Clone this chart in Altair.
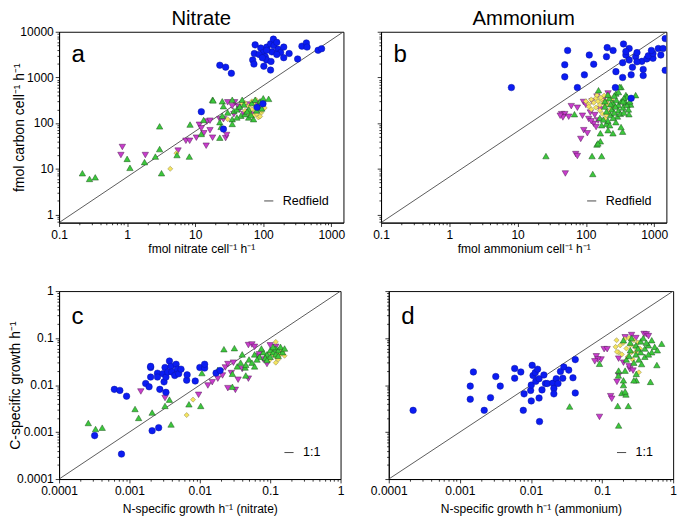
import altair as alt
import pandas as pd

# ---------------- data ----------------
# Panel a: nitrate uptake vs carbon fixation (fmol cell-1 h-1)
a_blue = [(23,1850),(28,1680),(34,1230),(76,5170),(74,3340),(70,2420),(73,1960),(102,1760),
          (128,1450),(92,4400),(100,3510),(107,2850),(113,4620),(128,5430),(141,6900),(144,5000),
          (134,3630),(112,2420),(158,5870),(165,4130),(180,3510),(200,4620),(200,2710),(240,3340),
          (320,2540),(370,4840),(430,5700),(440,4620),(640,3930),(720,4260),(112,3930),(87,3190),
          (158,3190),(130,2240),(97,2710),(12.3,178),(26,74),(81,222),(99,265)]
a_green = [(0.22,8),(0.28,6),(0.34,6.5),(1.0,16.5),(1.1,10.5),(1.8,14),(2.6,18.5),(3.0,27),(3.0,85),
           (3.2,8),(5.4,20),(8.2,18.5),(8.4,93),(12.3,58),(13.3,117),(23,48),(18,325),(18.3,315),
           (25,145),(23,105),(24,83),(25,300),(26,235),(35,122),(35,325),(37,185),(41,200),(49,325),
           (47,145),(54,157),(61,200),(68,275),(76,325),(90,300),(100,350),(120,340),(72,122),(35,96),
           (85,235),(41,133),(52,255),(61,133),(30,170),(45,230),(58,180),(80,190),(95,210),(66,150)]
a_magenta = [(0.85,30),(0.81,20),(1.85,20),(5.6,25),(7.3,41),(8.3,41),(10.4,48),(11.5,92),(12.3,77),
             (13.4,60),(14.5,32),(14.8,108),(16.5,113),(16.5,70),(18,48),(28,47),(29,55),(23,122),
             (30,285),(38,285),(35,235),(43,230),(37,157),(52,157),(61,175),(68,165),(60,255),(26,122),
             (80,275),(45,200)]
a_yellow = [(4.3,10),(5.3,22),(30,122),(54,275),(61,235),(68,200),(76,185),(80,157),(85,133),(94,170),
            (72,145),(64,157),(90,235),(54,185),(100,235),(105,215),(78,325),(68,300),(49,275),(90,140),
            (84,210),(74,250),(95,190)]

# Panel b: ammonium uptake vs carbon fixation
b_blue = [(8.1,600),(54,3900),(49,1900),(49,1030),(75,600),(95,1140),(130,1950),(112,3100),(205,4500),
          (200,2850),(250,3900),(355,5400),(275,1340),(270,600),(345,1000),(345,2100),(385,3100),
          (430,4300),(385,3700),(430,2400),(480,1670),(460,1140),(535,2850),(560,3500),(660,2250),
          (560,2200),(690,1500),(780,2550),(960,2630),(820,2980),(960,3350),(1150,4300),(1350,4300),
          (1250,3100),(910,3900),(1450,7100),(1450,1430),(690,1100),(460,350)]
b_green = [(26,19),(126,7.7),(123,19),(170,19),(145,34),(163,40),(345,65),(211,70),(249,60),(68,157),
           (153,525),(327,617),(327,82),(200,97),(275,105),(427,157),(385,412),(453,255),(163,60),
           (170,90),(210,113),(223,90),(535,410),(400,380),(310,620),(275,445),(150,36),(190,300),
           (220,350),(250,280),(280,320),(300,250),(330,300),(360,350),(380,280),(240,200),(270,230),
           (300,190),(350,220),(400,250),(420,200),(200,180),(230,150),(260,170),(290,140),(320,160),
           (360,170),(210,420),(260,400),(300,480),(350,300),(440,300),(230,260),(190,230),(160,130),
           (180,120),(250,130)]
b_magenta = [(61,235),(75,217),(92,290),(44,157),(49,157),(56,138),(46,133),(42,145),(89,145),(110,123),
             (123,300),(145,380),(180,324),(130,97),(141,82),(93,70),(105,60),(84,45),(151,114),(116,170),
             (71,21),(75,19),(50,7.9),(211,447),(100,250),(160,200),(135,150),(120,110)]
b_yellow = [(100,300),(110,260),(120,330),(130,280),(140,350),(150,300),(160,250),(170,330),(180,280),
            (190,230),(200,300),(210,260),(220,380),(230,200),(120,200),(140,220),(160,190),(175,160),
            (200,150),(145,410),(185,400),(240,320),(110,230),(165,360),(210,170),(250,240),(190,125)]

# Panel c: N-specific (nitrate) vs C-specific growth (h-1)
c_blue = [(0.00077,0.00034),(0.00032,0.00084),(0.00061,0.0081),(0.00073,0.0077),(0.00091,0.0058),
          (0.0017,0.0108),(0.0019,0.0092),(0.002,0.0148),(0.002,0.0237),(0.002,0.025),(0.0025,0.0179),
          (0.0025,0.0148),(0.0027,0.0081),(0.0031,0.0117),(0.003,0.0175),(0.0032,0.0237),(0.0033,0.0148),
          (0.0035,0.019),(0.0037,0.0325),(0.0039,0.025),(0.004,0.019),(0.0044,0.016),(0.0046,0.0277),
          (0.0048,0.0218),(0.005,0.0174),(0.0054,0.0218),(0.0033,0.0070),(0.0021,0.00107),
          (0.0026,0.00124),(0.0065,0.0127),(0.0066,0.0165),(0.0086,0.0122),(0.01,0.0237),
          (0.0117,0.023),(0.0117,0.0277),(0.017,0.018),(0.0194,0.0204)]
c_green = [(0.00026,0.00156),(0.00033,0.00116),(0.00041,0.00124),(0.0012,0.0031),(0.00135,0.002),
           (0.0021,0.0026),(0.0032,0.0036),(0.0037,0.0049),(0.0039,0.00145),(0.007,0.0039),
           (0.0103,0.0036),(0.0107,0.018),(0.022,0.058),(0.031,0.061),(0.029,0.0174),(0.029,0.0092),
           (0.044,0.0237),(0.04,0.045),(0.018,0.021),(0.034,0.025),(0.05,0.035),(0.06,0.045),(0.07,0.04),
           (0.08,0.05),(0.09,0.045),(0.1,0.055),(0.11,0.05),(0.12,0.06),(0.13,0.055),(0.14,0.065),
           (0.15,0.05),(0.1,0.04),(0.12,0.045),(0.085,0.038),(0.065,0.035),(0.075,0.06),(0.13,0.042),
           (0.16,0.06),(0.055,0.03),(0.045,0.027),(0.11,0.065),(0.09,0.034),(0.038,0.03),(0.06,0.025),
           (0.045,0.016)]
c_magenta = [(0.00145,0.0073),(0.0032,0.0053),(0.0096,0.0062),(0.018,0.0137),(0.021,0.016),(0.023,0.0237),
             (0.025,0.028),(0.03,0.03),(0.049,0.071),(0.055,0.073),(0.06,0.065),(0.049,0.0137),
             (0.025,0.0086),(0.032,0.0079),(0.035,0.013),(0.04,0.022),(0.0665,0.041),(0.09,0.028),
             (0.08,0.035),(0.1,0.07),(0.12,0.065),(0.07,0.045),(0.015,0.0115),(0.028,0.018),(0.013,0.0098)]
c_yellow = [(0.0065,0.0023),(0.008,0.0049),(0.1,0.05),(0.11,0.045),(0.12,0.04),(0.13,0.05),(0.12,0.083),
            (0.14,0.045),(0.15,0.05),(0.16,0.042),(0.13,0.035),(0.11,0.06),(0.1,0.035),(0.14,0.06),
            (0.12,0.03),(0.09,0.042)]

# Panel d: N-specific (ammonium) vs C-specific growth (h-1)
d_blue = [(0.00022,0.0029),(0.0014,0.0095),(0.0014,0.005),(0.00155,0.019),(0.0022,0.0029),(0.0027,0.0054),
          (0.0032,0.0152),(0.0037,0.0095),(0.0059,0.0225),(0.0059,0.014),(0.0072,0.019),(0.008,0.0065),
          (0.0078,0.0029),(0.0099,0.0077),(0.0101,0.01),(0.0101,0.0046),(0.0104,0.0263),(0.0107,0.016),
          (0.0115,0.0184),(0.0117,0.012),(0.0124,0.0218),(0.013,0.0137),(0.013,0.0053),(0.0132,0.00167),
          (0.0143,0.0079),(0.0152,0.0164),(0.016,0.0108),(0.017,0.0108),(0.0204,0.011),(0.021,0.0085),
          (0.021,0.0065),(0.0227,0.0137),(0.024,0.0108),(0.026,0.0195),(0.028,0.014),(0.029,0.0243),
          (0.034,0.0208),(0.039,0.0143),(0.042,0.0348),(0.042,0.0068)]
d_green = [(0.035,0.0035),(0.092,0.0284),(0.171,0.00138),(0.166,0.0036),(0.234,0.0036),(0.19,0.0068),
           (0.217,0.0063),(0.211,0.0073),(0.2,0.01),(0.2,0.0126),(0.171,0.0203),(0.211,0.0203),
           (0.303,0.0173),(0.303,0.0126),(0.48,0.0117),(0.59,0.0267),(0.69,0.076),(0.17,0.016),
           (0.28,0.0126),(0.2,0.09),(0.25,0.08),(0.3,0.07),(0.35,0.085),(0.4,0.06),(0.45,0.07),(0.5,0.05),
           (0.55,0.065),(0.3,0.045),(0.35,0.05),(0.4,0.04),(0.25,0.055),(0.22,0.035),(0.28,0.03),
           (0.33,0.035),(0.45,0.045),(0.38,0.1),(0.42,0.08),(0.6,0.055),(0.5,0.09),(0.26,0.1),(0.32,0.06),
           (0.24,0.042),(0.36,0.028)]
d_magenta = [(0.083,0.041),(0.097,0.035),(0.107,0.058),(0.118,0.058),(0.087,0.035),(0.079,0.032),
             (0.211,0.104),(0.26,0.116),(0.39,0.122),(0.42,0.12),(0.171,0.0365),(0.162,0.0117),
             (0.171,0.016),(0.246,0.0218),(0.273,0.0203),(0.132,0.0058),(0.137,0.0051),(0.092,0.0021),
             (0.2,0.03),(0.24,0.025),(0.45,0.11),(0.3,0.1)]
d_yellow = [(0.16,0.09),(0.18,0.07),(0.2,0.08),(0.22,0.06),(0.25,0.07),(0.28,0.09),(0.3,0.05),(0.17,0.05),
            (0.19,0.045),(0.23,0.04),(0.26,0.05),(0.32,0.08),(0.34,0.06),(0.162,0.051),(0.33,0.0187),
            (0.21,0.095),(0.27,0.035),(0.155,0.065),(0.24,0.1),(0.29,0.065)]

# axis ranges and reference lines
uptake_x = [0.1, 1509]
uptake_y = [0.6625, 10000]
redfield_ratio = 6.625
growth_x = [0.0001, 1]
growth_y = [0.0001, 1]
one_to_one = 1.0

FONT = "Liberation Sans"
STYLE = {
    "magenta": dict(shape="triangle-down", fill="#c93ccc", stroke="#4d1a52", size=44),
    "yellow": dict(shape="diamond", fill="#f4e45e", stroke="#8a8452", size=28),
    "green": dict(shape="triangle-up", fill="#3cc83c", stroke="#1c4f1c", size=44),
    "blue": dict(shape="circle", fill="#0b1cf2", stroke="#0a149e", size=46),
}
MAJOR = "abs(log(datum.value)/LN10 - round(log(datum.value)/LN10)) < 0.001"


def log_ticks(lo, hi):
    vals = []
    for e in range(-5, 5):
        for m in range(1, 10):
            v = float(f"{m}e{e}")
            if lo * 0.999 <= v <= hi * 1.001:
                vals.append(v)
    return vals


def make_axis(dom, title, labels, title_size, title_pad):
    kw = dict(
        values=log_ticks(*dom), grid=False, labelOverlap=False, labelFlush=False,
        tickSize={"condition": {"test": MAJOR, "value": 4}, "value": 2.2},
        tickColor="black", domainColor="black", tickWidth=0.8,
        labelFont=FONT, labelFontSize=12.5, labelColor="black", labelPadding=2,
        titleFont=FONT, titleFontSize=title_size, titleFontWeight="normal", titleColor="black",
        titlePadding=title_pad,
    )
    if labels:
        kw["labelExpr"] = MAJOR + " ? format(datum.value, '~g') : ''"
    else:
        kw["labels"] = False
    kw["title"] = title if title else None
    return alt.Axis(**kw)


def panel(groups, xdom, ydom, ratio, xtitle, ytitle, letter, leg_label, leg_offset,
          width, height, ytitle_pad, xtitle_pad, col_title=None):
    xs = alt.Scale(type="log", domain=xdom, nice=False)
    ys = alt.Scale(type="log", domain=ydom, nice=False)
    xenc = alt.X("x:Q", scale=xs, axis=make_axis(xdom, xtitle, True, 12.5, xtitle_pad))
    yenc = alt.Y("y:Q", scale=ys, axis=make_axis(ydom, ytitle, ytitle is not None, 14.5, ytitle_pad))

    line_df = pd.DataFrame({"x": xdom, "y": [ratio * v for v in xdom], "lab": [leg_label] * 2})
    layers = [
        alt.Chart(line_df).mark_line(strokeWidth=0.9, clip=True).encode(
            x=xenc, y=yenc,
            color=alt.Color("lab:N", scale=alt.Scale(range=["#444444"]),
                            legend=alt.Legend(title=None, orient="bottom-right", offset=leg_offset,
                                              symbolType="stroke", symbolSize=90,
                                              symbolStrokeWidth=1, labelFont=FONT,
                                              labelFontSize=13, labelColor="black",
                                              padding=0, labelOffset=8)))
    ]
    for name, pts in groups:
        st = STYLE[name]
        df = pd.DataFrame(pts, columns=["x", "y"])
        layers.append(
            alt.Chart(df).mark_point(shape=st["shape"], filled=True, fill=st["fill"],
                                     stroke=st["stroke"], strokeWidth=0.5, size=st["size"],
                                     opacity=1, clip=True).encode(x=xenc, y=yenc))
    layers.append(
        alt.Chart(pd.DataFrame({"t": [letter]})).mark_text(
            font=FONT, fontSize=25, align="left", baseline="alphabetic", color="black").encode(
            x=alt.value(13), y=alt.value(31 if col_title else 34), text="t:N"))
    if col_title:
        layers.append(
            alt.Chart(pd.DataFrame({"t": [col_title]})).mark_text(
                font=FONT, fontSize=21, align="center", baseline="alphabetic", color="black").encode(
                x=alt.value(width / 2), y=alt.value(-7), text="t:N"))
    return alt.layer(*layers).properties(width=width, height=height)


pa = panel([("magenta", a_magenta), ("yellow", a_yellow), ("green", a_green), ("blue", a_blue)],
           uptake_x, uptake_y, redfield_ratio, "fmol nitrate cell⁻¹ h⁻¹", "fmol carbon cell⁻¹ h⁻¹",
           "a", "Redfield", 15, 295, 198, -6.5, 3, "Nitrate")
pb = panel([("magenta", b_magenta), ("yellow", b_yellow), ("green", b_green), ("blue", b_blue)],
           uptake_x, uptake_y, redfield_ratio, "fmol ammonium cell⁻¹ h⁻¹", None,
           "b", "Redfield", 15, 296, 198, 0, 3, "Ammonium")
pc = panel([("magenta", c_magenta), ("yellow", c_yellow), ("green", c_green), ("blue", c_blue)],
           growth_x, growth_y, one_to_one, "N-specific growth h⁻¹ (nitrate)", "C-specific growth h⁻¹",
           "c", "1:1", 20, 292, 195, -6, 6)
pd_ = panel([("magenta", d_magenta), ("yellow", d_yellow), ("green", d_green), ("blue", d_blue)],
            growth_x, growth_y, one_to_one, "N-specific growth h⁻¹ (ammonium)", None,
            "d", "1:1", 20, 295, 195, 0, 6)

top = alt.hconcat(pa, pb, spacing=27).resolve_scale(color="independent")
bottom = alt.hconcat(pc, pd_, spacing=26).resolve_scale(color="independent")
chart = alt.vconcat(top, bottom, spacing=29).resolve_scale(color="independent").properties(
    padding={"left": -1, "top": -10, "right": 0, "bottom": 0}
).configure(background="white").configure_view(stroke="black", strokeWidth=1)

chart.save("out.html", embed_options={"renderer": "svg", "actions": False})
